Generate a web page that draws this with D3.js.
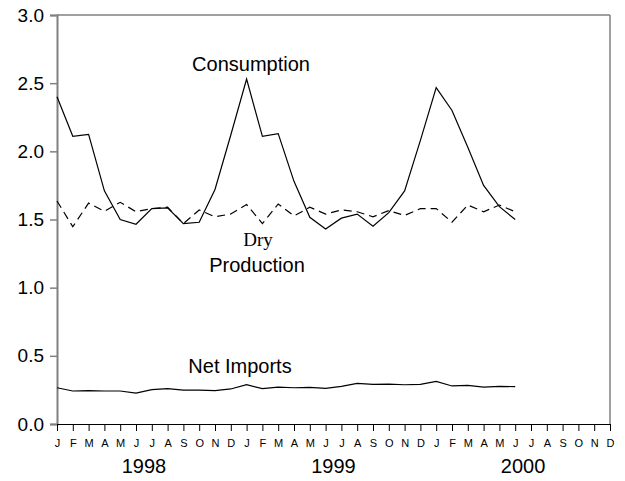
<!DOCTYPE html>
<html>
<head>
<meta charset="utf-8">
<script src="https://cdn.jsdelivr.net/npm/d3@7"></script>
<style>
  html, body { margin: 0; padding: 0; background: #fff; }
  svg { display: block; }
  text { font-family: "Liberation Sans", Arial, sans-serif; fill: #000; }
</style>
</head>
<body>
<svg id="chart" width="625" height="481"></svg>
<script>
// Month labels across three years (Jan 1998 .. Dec 2000)
const monthLetters = ["J","F","M","A","M","J","J","A","S","O","N","D"];
const years = ["1998", "1999", "2000"];
const yTicks = [0, 0.5, 1.0, 1.5, 2.0, 2.5, 3.0];

// Series values, Jan 1998 .. Jun 2000 (30 months)
const consumption = [
  2.40, 2.11, 2.125, 1.71, 1.50, 1.465, 1.58, 1.585, 1.47, 1.48, 1.72, 2.12,
  2.53, 2.11, 2.13, 1.78, 1.516, 1.43, 1.51, 1.54, 1.45, 1.55, 1.71, 2.08,
  2.467, 2.30, 2.03, 1.75, 1.594, 1.50
];
const dryProduction = [
  1.636, 1.447, 1.62, 1.56, 1.626, 1.557, 1.58, 1.59, 1.47, 1.57, 1.52, 1.54,
  1.61, 1.47, 1.614, 1.526, 1.59, 1.54, 1.57, 1.557, 1.52, 1.565, 1.53, 1.58,
  1.58, 1.48, 1.606, 1.557, 1.606, 1.557
];
const netImports = [
  0.266, 0.242, 0.245, 0.242, 0.242, 0.227, 0.252, 0.259, 0.249, 0.249, 0.245, 0.257,
  0.288, 0.259, 0.271, 0.266, 0.268, 0.262, 0.276, 0.298, 0.291, 0.293, 0.288, 0.291,
  0.313, 0.279, 0.283, 0.271, 0.276, 0.274
];

const svg = d3.select("#chart");
const L = 57, R = 610, T = 15, B = 424;
const nMonths = monthLetters.length * years.length;

const x = d3.scaleLinear().domain([0, nMonths - 1]).range([L, R]);
const y = d3.scaleLinear().domain([0, 3]).range([B, T]);

// Frame (gray) top and right
svg.append("line").attr("x1", L).attr("x2", R).attr("y1", T).attr("y2", T)
  .attr("stroke", "#808080").attr("stroke-width", 1.5);
svg.append("line").attr("x1", R).attr("x2", R).attr("y1", T).attr("y2", B)
  .attr("stroke", "#808080").attr("stroke-width", 1.5);

// Y axis
const yAxis = d3.axisLeft(y).tickValues(yTicks).tickFormat(d3.format(".1f"))
  .tickSize(7).tickPadding(6);
const gy = svg.append("g").attr("transform", `translate(${L},0)`).call(yAxis);
gy.select(".domain").attr("stroke", "#808080").attr("stroke-width", 2);
gy.selectAll(".tick line").attr("stroke", "#808080").attr("stroke-width", 1.5);
gy.selectAll(".tick text").attr("font-size", 19).attr("font-family", "Liberation Sans, Arial, sans-serif").attr("fill", "#000");

// X axis with month letters
const monthIdx = d3.range(nMonths);
const xAxis = d3.axisBottom(x).tickValues(monthIdx)
  .tickFormat(i => monthLetters[i % 12]).tickSize(7).tickPadding(8).tickSizeOuter(0);
const gx = svg.append("g").attr("transform", `translate(0,${B})`).call(xAxis);
gx.select(".domain").attr("stroke", "#000").attr("stroke-width", 1.2);
gx.selectAll(".tick line").attr("stroke", "#000").attr("stroke-width", 1);
gx.selectAll(".tick text").attr("font-size", 11).attr("font-family", "Liberation Sans, Arial, sans-serif").attr("fill", "#000");

// Year labels
svg.selectAll("text.year").data(years).enter().append("text")
  .attr("class", "year")
  .attr("x", (d, i) => x(i * 12 + 5.5))
  .attr("y", 473)
  .attr("text-anchor", "middle")
  .attr("font-size", 20)
  .text(d => d);

// Lines
const line = d3.line().x((d, i) => x(i)).y(d => y(d));
svg.append("path").datum(consumption).attr("d", line)
  .attr("fill", "none").attr("stroke", "#000").attr("stroke-width", 1.2);
svg.append("path").datum(dryProduction).attr("d", line)
  .attr("fill", "none").attr("stroke", "#000").attr("stroke-width", 1.2)
  .attr("stroke-dasharray", "8,5");
svg.append("path").datum(netImports).attr("d", line)
  .attr("fill", "none").attr("stroke", "#000").attr("stroke-width", 1.2);

// Annotations
svg.append("text").attr("x", 251).attr("y", 71).attr("text-anchor", "middle")
  .attr("font-size", 20).text("Consumption");
svg.append("text").attr("x", 258).attr("y", 246).attr("text-anchor", "middle")
  .attr("font-size", 19).attr("font-family", "Liberation Serif, Times New Roman, serif").style("font-family", "Liberation Serif, serif").text("Dry");
svg.append("text").attr("x", 257).attr("y", 272).attr("text-anchor", "middle")
  .attr("font-size", 20).text("Production");
svg.append("text").attr("x", 240).attr("y", 373).attr("text-anchor", "middle")
  .attr("font-size", 20).text("Net Imports");
</script>
</body>
</html>
